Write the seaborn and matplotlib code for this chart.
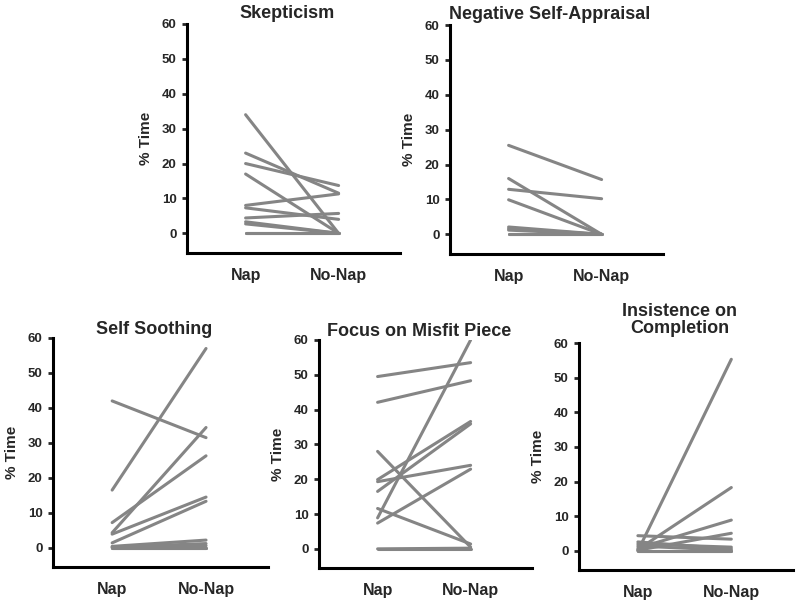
import pandas as pd
import matplotlib
matplotlib.use("Agg")
import matplotlib.pyplot as plt
import seaborn as sns

conditions = ["Nap", "No-Nap"]

# values (% time), one entry per child
skepticism_nap = [34, 23, 20, 17, 8, 7.3, 4.4, 3.3, 2.7, 0, 0]
skepticism_nonap = [0, 11.5, 13.7, 0, 11.3, 4.0, 5.7, 0, 0, 0, 0]

negative_nap = [25.5, 16, 12.9, 9.9, 2.1, 1.6, 1.2, 0, 0]
negative_nonap = [15.7, 0, 10.2, 0, 0, 0, 0, 0, 0]

soothing_nap = [42, 16.5, 7.2, 4.3, 3.9, 1.4, 0.4, 0.2, 0, 0, 0]
soothing_nonap = [31.5, 57, 26.3, 34.4, 14.5, 13.3, 2.2, 1.2, 0.6, 0, 0]

misfit_nap = [49.5, 42.1, 28, 19.9, 19.3, 16.5, 8.9, 11.6, 7.4, 0, 0]
misfit_nonap = [53.5, 48.3, 0.5, 36.6, 24, 35.9, 60, 1.4, 22.9, 0.2, 0]

insist_nap = [0, 0.4, 0.8, 0.2, 4.4, 2.6, 2.0, 1.4, 0, 0]
insist_nonap = [55.3, 18.3, 8.9, 5.1, 3.4, 0.6, 1.1, 0.2, 0, 0]

panels = [
    ("Skepticism", skepticism_nap, skepticism_nonap, [187, 24, 400, 252.5], 4),
    ("Negative Self-Appraisal", negative_nap, negative_nonap, [450, 25, 663, 253.5], 4),
    ("Self Soothing", soothing_nap, soothing_nonap, [53, 338, 268, 567], 0),
    ("Focus on Misfit Piece", misfit_nap, misfit_nonap, [319, 340, 532, 568], 2),
    ("Insistence on\nCompletion", insist_nap, insist_nonap, [579, 343, 793, 570], 7),
]

sns.set_style("ticks")
plt.rcParams["font.family"] = ["Liberation Sans", "DejaVu Sans"]
plt.rcParams["font.weight"] = "bold"

W, H = 800, 604
fig = plt.figure(figsize=(W / 100, H / 100), dpi=100)

for title, nap, nonap, box, tpad in panels:
    x0, y0, x1, y1 = box
    ax = fig.add_axes([x0 / W, 1 - y1 / H, (x1 - x0) / W, (y1 - y0) / H])
    df = pd.DataFrame({
        "child": list(range(len(nap))) * 2,
        "condition": [conditions[0]] * len(nap) + [conditions[1]] * len(nonap),
        "pct": nap + nonap,
    })
    sns.lineplot(data=df, x="condition", y="pct", units="child", estimator=None,
                 color="#858585", linewidth=2.2, ax=ax, legend=False)
    ax.set_xlim(-0.63, 1.66)
    ax.set_ylim(-5.5, 60)
    ax.set_yticks([0, 10, 20, 30, 40, 50, 60])
    ax.set_xlabel("")
    ax.set_ylabel("% Time", fontsize=11, fontweight="bold", labelpad=6)
    ax.set_title(title, fontsize=13, fontweight="bold", pad=tpad, linespacing=1.0, x=0.47)
    sns.despine(ax=ax)
    for s in ("left", "bottom"):
        ax.spines[s].set_linewidth(2.2)
        ax.spines[s].set_color("black")
    ax.spines["left"].set_bounds(-5.5, 60)
    ax.tick_params(axis="y", length=3.5, width=2, pad=4, labelsize=9.5)
    ax.tick_params(axis="x", length=0, pad=11, labelsize=11.5)
    for lab in ax.get_xticklabels() + ax.get_yticklabels():
        lab.set_fontweight("bold")

fig.savefig("out.png", dpi=100)
